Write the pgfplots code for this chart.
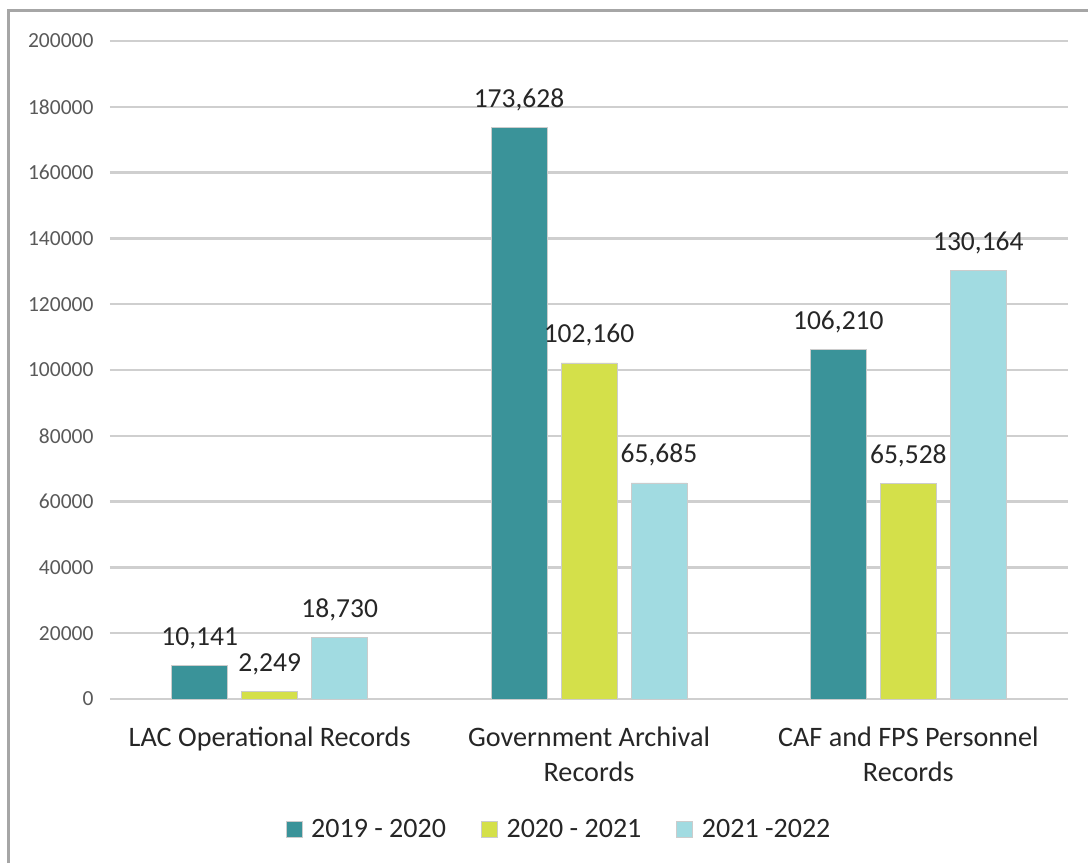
\documentclass[border=0pt]{standalone}
\usepackage{fontspec}
\setmainfont{Carlito}
\usepackage{pgfplots}
\pgfplotsset{compat=1.18}
\definecolor{cA}{HTML}{3A9399}
\definecolor{cB}{HTML}{D4E04A}
\definecolor{cC}{HTML}{A1DBE1}
\definecolor{gridc}{HTML}{CFCFCF}
\definecolor{framec}{HTML}{A6A6A6}
\definecolor{tickc}{HTML}{595959}
\definecolor{txtc}{HTML}{262626}
\begin{document}
\begin{tikzpicture}
\useasboundingbox (0pt,0pt) rectangle (1088pt,863pt);
\draw[framec, line width=3pt] (8pt,0pt) -- (8pt,852pt) -- (1088pt,852pt);
\begin{axis}[
  at={(110pt,164pt)}, anchor=south west,
  scale only axis, width=958pt, height=658pt,
  ybar=14pt, bar width=56pt,
  xmin=-0.5, xmax=2.5, ymin=0, ymax=200000,
  xtick={0,1,2},
  xticklabels={{LAC Operational Records},{Government Archival\\Records},{CAF and FPS Personnel\\Records}},
  ytick={0,20000,40000,60000,80000,100000,120000,140000,160000,180000,200000},
  yticklabels={0,20000,40000,60000,80000,100000,120000,140000,160000,180000,200000},
  axis line style={draw=none},
  tick style={draw=none},
  ymajorgrids,
  grid style={gridc, line width=2.5pt},
  scaled y ticks=false,
  yticklabel style={font=\fontsize{21.5}{24}\selectfont, text=tickc, xshift=-13pt},
  xticklabel style={font=\fontsize{28.2}{35}\selectfont, text=txtc, align=center, yshift=-20pt},
  point meta=explicit symbolic,
  nodes near coords,
  nodes near coords style={font=\fontsize{27.5}{32}\selectfont, text=txtc, anchor=base, inner sep=0pt, yshift=20pt},
  legend style={at={(0.4687,-0.1983)}, anchor=center, draw=none, fill=none,
    font=\fontsize{28}{32}\selectfont, text=txtc, legend columns=3,
    /tikz/every odd column/.append style={column sep=7pt},
    /tikz/every even column/.append style={column sep=33pt}},
  legend image code/.code={\fill[#1] (0pt,-8pt) rectangle (16pt,8pt);},
]
\addplot[fill=cA, draw=gray!40, line width=0.6pt] coordinates {(0,10141)[10,141] (1,173628)[173,628] (2,106210)[106,210]};
\addplot[fill=cB, draw=gray!40, line width=0.6pt] coordinates {(0,2249)[2,249] (1,102160)[102,160] (2,65528)[65,528]};
\addplot[fill=cC, draw=gray!40, line width=0.6pt] coordinates {(0,18730)[18,730] (1,65685)[65,685] (2,130164)[130,164]};
\legend{2019 - 2020, 2020 - 2021, 2021 -2022}
\end{axis}
\end{tikzpicture}
\end{document}
